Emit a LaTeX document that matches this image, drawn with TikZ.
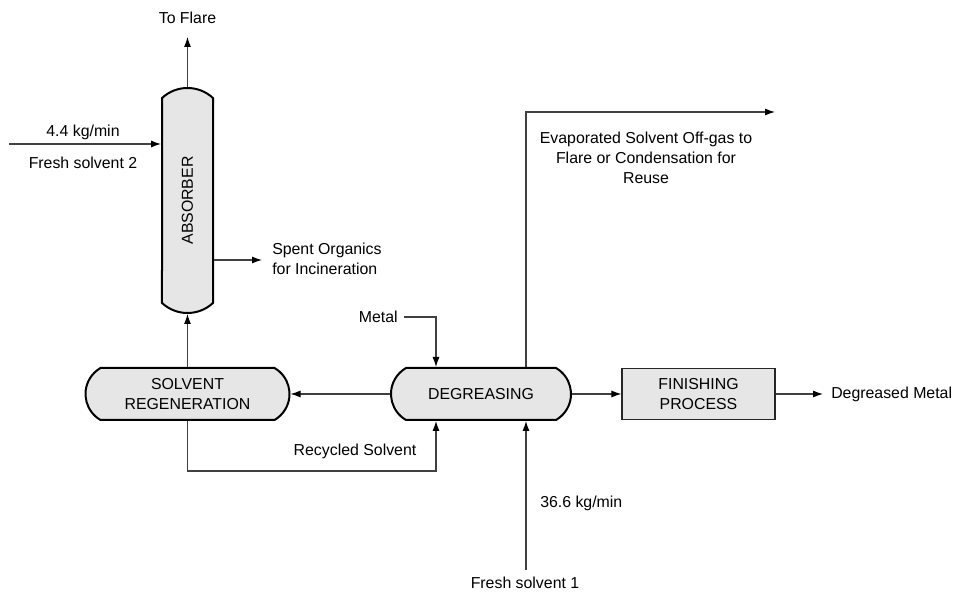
\documentclass[tikz,border=0pt]{standalone}
\usepackage{fontspec}
\setmainfont{Liberation Sans}
\usetikzlibrary{shapes.misc,arrows.meta}
\definecolor{vesselfill}{HTML}{E6E6E6}
\definecolor{pipe}{HTML}{404040}
\begin{document}
\begin{tikzpicture}[x=0.75pt,y=0.75pt,
  font=\fontsize{11.9}{15}\selectfont,
  vessel/.style={draw=black, line width=1.5pt, fill=vesselfill, rounded rectangle,
    rounded rectangle arc length=120, inner sep=0pt, align=center},
  unitbox/.style={draw=black!85, line width=0.9pt, fill=vesselfill, rectangle,
    inner sep=0pt, align=center},
  flow/.style={draw=pipe, line width=0.8pt, -{Latex[length=7.5pt,width=5.25pt,color=black]}},
  lbl/.style={inner sep=0pt, align=center}]
\useasboundingbox (0,0) rectangle (958,593);

% process units
\node[vessel, rotate=90, minimum width=168.75pt, minimum height=38.25pt,
  rounded rectangle arc length=86] (absorber) at (187.5,392.5) {ABSORBER};
\node[vessel, minimum width=153pt, minimum height=39pt] (regen) at (187.5,199) {SOLVENT\\REGENERATION};
\node[vessel, minimum width=135pt, minimum height=39pt] (deg) at (481,199) {DEGREASING};
\node[unitbox, minimum width=114.75pt, minimum height=38.25pt] (finish) at (698.5,199) {FINISHING\\PROCESS};

% absorber streams (node is turned by 90 degrees: east = top, north = left side)
\node[lbl] (flarelbl) at (187.5,575) {To Flare};
\coordinate (flare) at (187.5,556);
\draw[flow] (absorber.east) -- (flare);

\coordinate (in2) at (9,449);
\draw[flow] (in2) -- (in2 -| absorber.north);
\node[lbl] (rate2) at (83,461) {4.4 kg/min};
\node[lbl] (fresh2) at (83,430) {Fresh solvent 2};

\coordinate (spent) at (262,333);
\draw[flow] (spent -| absorber.south) -- (spent);
\node[lbl, anchor=west, align=left] (spentlbl) at (272,334) {Spent Organics\\for Incineration};

\draw[flow] (regen.north) -- (absorber.west);

% degreasing streams
\node[lbl, anchor=east] (metal) at (398,276) {Metal};
\coordinate (metalin) at (404,276);
\draw[flow] (metalin) -| ([xshift=-33.75pt]deg.north);

\draw[flow] (deg.west) -- (regen.east);
\draw[flow] (regen.south) -- ++(0,-50) -| ([xshift=-33.75pt]deg.south);
\node[lbl] (recyc) at (355,142) {Recycled Solvent};

\coordinate (offgas) at (775,481);
\draw[flow] ([xshift=33.75pt]deg.north) |- (offgas);
\node[lbl] (offgaslbl) at (646,435) {Evaporated Solvent Off-gas to\\Flare or Condensation for\\Reuse};

\coordinate (in1) at (526,23);
\draw[flow] (in1) -- ([xshift=33.75pt]deg.south);
\node[lbl, anchor=west] (rate1) at (540,90) {36.6 kg/min};
\node[lbl] (fresh1) at (525,10) {Fresh solvent 1};

\draw[flow] (deg.east) -- (finish.west);
\coordinate (product) at (823,199);
\draw[flow] (finish.east) -- (product);
\node[lbl, anchor=west] (prodlbl) at (831,199) {Degreased Metal};
\end{tikzpicture}
\end{document}
